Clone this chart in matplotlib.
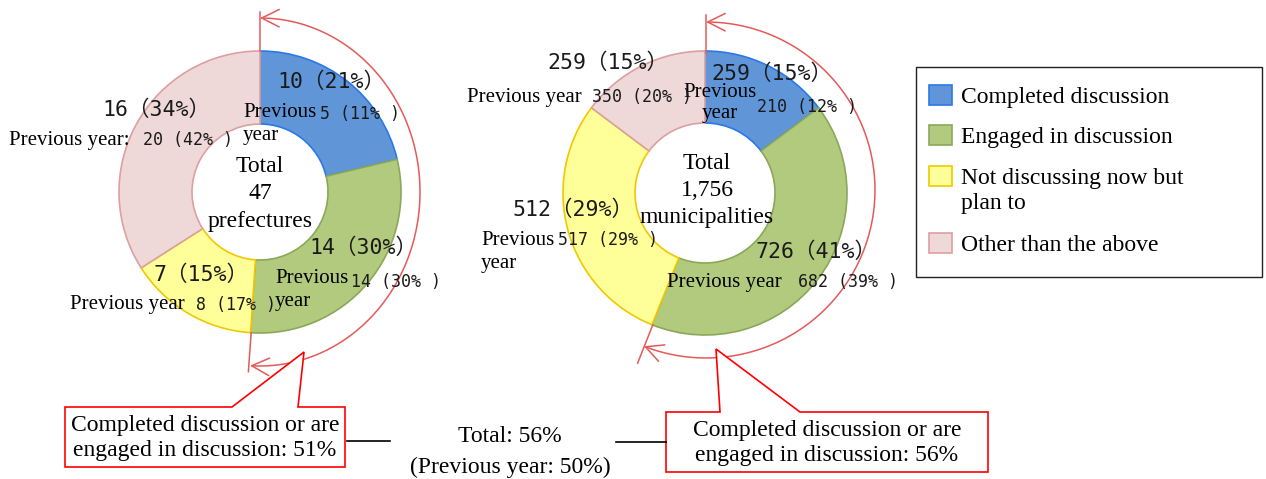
import numpy as np
import matplotlib
matplotlib.use("Agg")
import matplotlib.pyplot as plt
from matplotlib.patches import Rectangle, Polygon, FancyArrowPatch
from matplotlib.path import Path

# ---------------- data ----------------
categories = ["Completed discussion", "Engaged in discussion",
              "Not discussing now but\nplan to", "Other than the above"]
pref_counts = [10, 14, 7, 16]
pref_pct = [21, 30, 15, 34]
pref_prev_counts = [5, 14, 8, 20]
pref_prev_pct = [11, 30, 17, 42]
muni_counts = [259, 726, 512, 259]
muni_pct = [15, 41, 29, 15]
muni_prev_counts = [210, 682, 517, 350]
muni_prev_pct = [12, 39, 29, 20]
pref_total = 47
muni_total = 1756
pref_done_engaged = 51
muni_done_engaged = 56
overall_total = 56
overall_prev = 50

face_colors = ["#6096d8", "#b2ca7e", "#ffff99", "#eed8d8"]
edge_colors = ["#2a78e8", "#8aa85a", "#f0c800", "#dca0a0"]

W, H = 1266, 479
fig = plt.figure(figsize=(W / 100, H / 100), dpi=100)
ax = fig.add_axes([0, 0, 1, 1])

SERIF = ["Liberation Serif", "DejaVu Serif"]
MONO = ["DejaVu Sans Mono", "Noto Sans CJK JP"]


def Y(p):
    return H - p


def donut(values, cx, cy, r, rin):
    wedges, _ = ax.pie(values, radius=r, center=(cx, Y(cy)), startangle=90,
                       counterclock=False, colors=face_colors,
                       wedgeprops=dict(width=r - rin, linewidth=1.2), frame=True)
    for w, ec in zip(wedges, edge_colors):
        w.set_edgecolor(ec)
    return wedges


def arc(cx, cy, rx, ry, pct, color):
    t = np.radians(np.linspace(90, 90 - pct * 3.6, 200))
    pts = np.column_stack([cx + rx * np.cos(t), Y(cy) + ry * np.sin(t)])
    arr = FancyArrowPatch(path=Path(pts), arrowstyle="<->,head_length=0.9,head_width=0.45",
                          mutation_scale=14, color=color, lw=1.1)
    ax.add_patch(arr)


def big(x, y, n, p, ha="center"):
    ax.text(x, Y(y), f"{n}（{p}%）", fontsize=15.5, family=MONO, ha=ha, va="center",
            color="#1a1a1a")


def small(x, y, n, p, ha="left"):
    ax.text(x, Y(y), f"{n} ({p}% )", fontsize=12, family=MONO, ha=ha, va="center",
            color="#1a1a1a")


def serif(x, y, s, size=15, ha="left", **kw):
    ax.text(x, Y(y), s, fontsize=size, family=SERIF, ha=ha, va="center", **kw)


ARC_COL = "#e45a5a"

# ---------- left donut (prefectures) ----------
donut(pref_counts, 260, 192, 141, 68)
arc(260, 192, 160, 174, pref_done_engaged, ARC_COL)
ax.plot([260, 260], [Y(12), Y(51)], color=ARC_COL, lw=1.1)
ang = np.radians(90 - pref_done_engaged * 3.6)
ax.plot([260 + 141 * np.cos(ang), 260 + 185 * np.cos(ang)],
        [Y(192) + 141 * np.sin(ang), Y(192) + 180 * np.sin(ang)], color=ARC_COL, lw=1.1)

serif(260, 166, "Total", 17, ha="center")
serif(260, 193, f"{pref_total}", 17, ha="center")
serif(260, 221, "prefectures", 17, ha="center")

big(331, 82, pref_counts[0], pref_pct[0])
serif(243, 124, "Previous\nyear", linespacing=1.25)
small(320, 114, pref_prev_counts[0], pref_prev_pct[0])

big(363, 248, pref_counts[1], pref_pct[1])
serif(275, 290, "Previous\nyear", linespacing=1.25)
small(351, 282, pref_prev_counts[1], pref_prev_pct[1])

big(201, 275, pref_counts[2], pref_pct[2])
serif(70, 305, "Previous year")
small(196, 305, pref_prev_counts[2], pref_prev_pct[2])

big(156, 110, pref_counts[3], pref_pct[3])
serif(9, 140, "Previous year:")
small(143, 140, pref_prev_counts[3], pref_prev_pct[3])

# ---------- right donut (municipalities) ----------
donut(muni_counts, 705, 193, 142, 70)
arc(706, 190, 169, 168, muni_done_engaged, ARC_COL)
ax.plot([706, 706], [Y(15), Y(53)], color=ARC_COL, lw=1.1)
ang = np.radians(90 - muni_done_engaged * 3.6)
ax.plot([705 + 142 * np.cos(ang), 705 + 183 * np.cos(ang)],
        [Y(193) + 142 * np.sin(ang), Y(193) + 183 * np.sin(ang)], color=ARC_COL, lw=1.1)

serif(707, 163, "Total", 17, ha="center")
serif(707, 190, f"{muni_total:,}", 17, ha="center")
serif(707, 217, "municipalities", 17, ha="center")

big(772, 74, muni_counts[0], muni_pct[0])
serif(720, 103, "Previous\nyear", ha="center", linespacing=1.15)
small(757, 107, muni_prev_counts[0], muni_prev_pct[0])

big(816, 252, muni_counts[1], muni_pct[1])
serif(667, 282, "Previous year")
small(798, 282, muni_prev_counts[1], muni_prev_pct[1])

big(573, 210, muni_counts[2], muni_pct[2])
serif(481, 252, "Previous\nyear", linespacing=1.25)
small(558, 240, muni_prev_counts[2], muni_prev_pct[2])

big(608, 63, muni_counts[3], muni_pct[3])
serif(467, 97, "Previous year")
small(592, 97, muni_prev_counts[3], muni_prev_pct[3])

# ---------- callouts ----------
def bubble(x0, y0, x1, y1, b1, b2, tip, text):
    pts = [(x0, Y(y0)), (b1, Y(y0)), (tip[0], Y(tip[1])), (b2, Y(y0)),
           (x1, Y(y0)), (x1, Y(y1)), (x0, Y(y1))]
    ax.add_patch(Polygon(pts, closed=True, facecolor="white", edgecolor="#ff0000", lw=1.2))
    serif((x0 + x1) / 2, (y0 + y1) / 2 + 1, text, 17, ha="center", linespacing=1.2)


bubble(65, 407, 345, 467, 232, 298, (304, 352),
       f"Completed discussion or are\nengaged in discussion: {pref_done_engaged}%")
bubble(666, 412, 988, 472, 720, 800, (716, 349),
       f"Completed discussion or are\nengaged in discussion: {muni_done_engaged}%")

ax.plot([347, 390], [Y(441), Y(441)], color="black", lw=1.2)
ax.plot([616, 666], [Y(442), Y(442)], color="black", lw=1.2)
serif(510, 437, f"Total: {overall_total}%", 17, ha="center")
serif(510, 467, f"(Previous year: {overall_prev}%)", 17, ha="center")

# ---------- legend ----------
ax.add_patch(Rectangle((916, Y(277)), 346, 210, facecolor="white", edgecolor="#222222", lw=1.0))
leg_rows = [97, 137, 191, 245]
for cat, fc, ec, ry in zip(categories, face_colors, edge_colors, leg_rows):
    box_y = ry - 2 if "\n" not in cat else 176
    ax.add_patch(Rectangle((929, Y(box_y + 10)), 23, 20, facecolor=fc, edgecolor=ec, lw=1.2))
    serif(961, ry, cat, 17, linespacing=1.2)

ax.set_xlim(0, W)
ax.set_ylim(0, H)
ax.set_aspect("equal")
ax.axis("off")
fig.savefig("out.png", dpi=100)
